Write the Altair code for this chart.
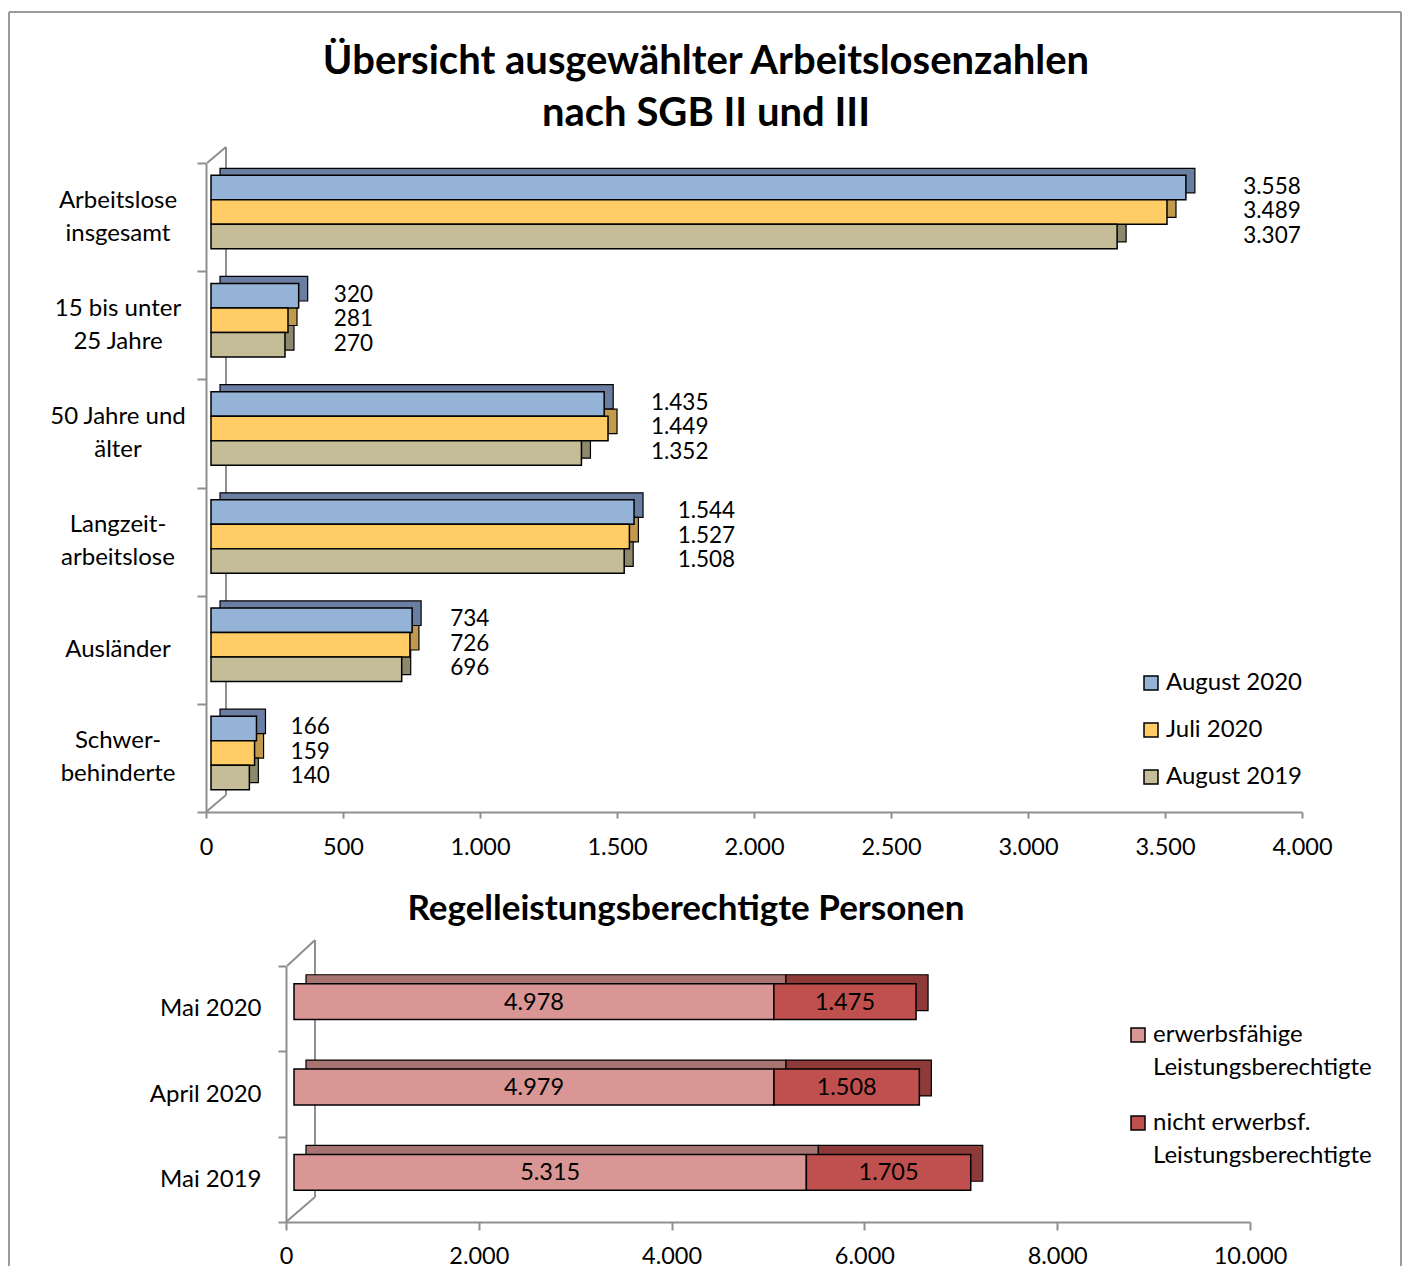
import altair as alt
import pandas as pd

# ---------------- data ----------------
categories = ["Arbeitslose|insgesamt", "15 bis unter|25 Jahre", "50 Jahre und|älter",
              "Langzeit-|arbeitslose", "Ausländer", "Schwer-|behinderte"]
series_names = ["August 2020", "Juli 2020", "August 2019"]
aug_2020 = [3558, 320, 1435, 1544, 734, 166]
jul_2020 = [3489, 281, 1449, 1527, 726, 159]
aug_2019 = [3307, 270, 1352, 1508, 696, 140]
top_ticks = [0, 500, 1000, 1500, 2000, 2500, 3000, 3500, 4000]

months = ["Mai 2020", "April 2020", "Mai 2019"]
benefit_types = ["erwerbsfähige|Leistungsberechtigte", "nicht erwerbsf.|Leistungsberechtigte"]
erwerbsfaehige = [4978, 4979, 5315]
nicht_erwerbsfaehige = [1475, 1508, 1705]
bottom_ticks = [0, 2000, 4000, 6000, 8000, 10000]

title_top = ["Übersicht ausgewählter Arbeitslosenzahlen", "nach SGB II und III"]
title_bottom = "Regelleistungsberechtigte Personen"

# ---------------- style ----------------
FONT = "Lato"
GRAY = "#8f8f8f"
LFS = 24      # label font size
NFS = 23.5    # tick label font size
VFS = 22.5    # value label font size
front_colors = ["#95B3D7", "#FFCC66", "#C4BD97"]
side_colors = ["#6A7EA2", "#C29A4C", "#8E896C"]
pink_front = ["#D99694", "#C0504D"]
pink_side = ["#A87472", "#8E3A38"]

W1, H1 = 1096, 649
W2, H2 = 964, 256

NUM = "replace(format(datum.value, ','), ',', '.')"

rows = []
for s, vals in zip(series_names, [aug_2020, jul_2020, aug_2019]):
    for c, v in zip(categories, vals):
        rows.append({"cat": c, "series": s, "value": v})
df1 = pd.DataFrame(rows)
df_cats = pd.DataFrame({"cat": categories})

rows2 = []
for i, (t, vals) in enumerate(zip(benefit_types, [erwerbsfaehige, nicht_erwerbsfaehige])):
    for m, v in zip(months, vals):
        rows2.append({"month": m, "type": t, "value": v, "order": i})
df2 = pd.DataFrame(rows2)

dummy = pd.DataFrame({"d": [0]})


def rule(x, y, x2=None, y2=None, color=GRAY, width=2):
    enc = dict(x=alt.value(x), y=alt.value(y))
    if x2 is not None:
        enc["x2"] = alt.value(x2)
    if y2 is not None:
        enc["y2"] = alt.value(y2)
    return alt.Chart(dummy).mark_rule(color=color, strokeWidth=width).encode(**enc)


# ---------------- top chart ----------------
band_kw = dict(domain=categories, paddingInner=0.32, paddingOuter=0.16)
band_axis = dict(domain=categories, paddingInner=0, paddingOuter=0)
xs1 = alt.Scale(domain=[0, 4000], nice=False)
yoff1 = alt.YOffset("series:N", scale=alt.Scale(domain=series_names))

x_axis1 = alt.Axis(values=top_ticks, labelExpr=NUM, tickSize=6, labelPadding=17,
                   labelFontSize=NFS, labelFont=FONT, labelColor="black", labelFlush=False,
                   domainColor=GRAY, tickColor=GRAY, domainWidth=2, tickWidth=2,
                   grid=False, title=None)
y_axis1 = alt.Axis(labels=False, tickSize=9, tickBand="extent", title=None,
                   domainColor=GRAY, tickColor=GRAY, domainWidth=2, tickWidth=2)

cats = alt.Chart(df_cats)

ylab_two = cats.transform_filter("indexof(datum.cat, '|') >= 0").mark_text(
    lineBreak="|", align="center", baseline="middle", dy=-16.5, lineHeight=33,
    fontSize=LFS, font=FONT, color="black"
).encode(
    x=alt.value(-88),
    y=alt.Y("cat:N", scale=alt.Scale(**band_axis), axis=y_axis1),
    text="cat:N",
)
ylab_one = cats.transform_filter("indexof(datum.cat, '|') < 0").mark_text(
    align="center", baseline="middle", fontSize=LFS, font=FONT, color="black"
).encode(
    x=alt.value(-88),
    y=alt.Y("cat:N", scale=alt.Scale(**band_axis), axis=None),
    text="cat:N",
)

base1 = alt.Chart(df1)

shadow1 = base1.mark_bar(stroke="black", strokeWidth=1.2, xOffset=14, x2Offset=14).encode(
    x=alt.X("value:Q", scale=xs1, axis=None),
    y=alt.Y("cat:N", scale=alt.Scale(range=[-12, H1 - 12], **band_kw), axis=None),
    yOffset=yoff1,
    color=alt.Color("series:N", scale=alt.Scale(domain=series_names, range=side_colors), legend=None),
)

front1 = base1.mark_bar(stroke="black", strokeWidth=1.5, xOffset=5, x2Offset=5).encode(
    x=alt.X("value:Q", scale=xs1, axis=x_axis1),
    y=alt.Y("cat:N", scale=alt.Scale(range=[-5, H1 - 5], **band_kw), axis=None),
    yOffset=yoff1,
    color=alt.Color("series:N", scale=alt.Scale(domain=series_names, range=front_colors),
                    legend=alt.Legend(title=None, orient="none", legendX=933, legendY=508,
                                      symbolType="square", symbolSize=196,
                                      symbolStrokeColor="black", symbolStrokeWidth=1.5,
                                      labelFontSize=LFS, labelFont=FONT, labelColor="black",
                                      labelOffset=3, rowPadding=23, padding=0)),
)

# value labels: placed beside the longest bar of each group (with the slight
# perspective drift of the 3D original)
text1 = base1.transform_joinaggregate(
    gmax="max(value)", groupby=["cat"]
).transform_calculate(
    lx="datum.gmax * 1.025",
    label="replace(format(datum.value, ','), ',', '.')"
).mark_text(align="left", baseline="middle", dx=38, fontSize=VFS, font=FONT, color="black").encode(
    x=alt.X("lx:Q", scale=xs1, axis=None),
    y=alt.Y("cat:N", scale=alt.Scale(range=[-6, H1 - 6], **band_kw), axis=None),
    yOffset=yoff1,
    text="label:N",
)

title1 = alt.Chart(dummy).mark_text(
    text=title_top, font=FONT, fontSize=40, fontWeight="bold", align="center",
    baseline="alphabetic", lineHeight=52, color="black"
).encode(x=alt.value(500), y=alt.value(-89))

frame = [
    rule(-197, -151, y2=1103, color="#9a9a9a"),
    rule(-197, -151, x2=1195, color="#9a9a9a"),
    rule(1195, -151, y2=1103, color="#9a9a9a"),
]
walls1 = [
    rule(20, -16, y2=632),
    rule(1, 0, x2=20, y2=-16),
    rule(0, H1, x2=20, y2=632),
]

top = alt.layer(*frame, title1, *walls1, ylab_two, ylab_one, shadow1, front1, text1).resolve_scale(
    x="independent", y="independent", yOffset="independent", color="independent"
).properties(width=W1, height=H1)

# ---------------- bottom chart ----------------
ys2 = alt.Scale(domain=months, paddingInner=0.58, paddingOuter=0.29)
ys2_axis = alt.Scale(domain=months, paddingInner=0, paddingOuter=0)
xs2 = alt.Scale(domain=[0, 10000], nice=False)

x_axis2 = alt.Axis(values=bottom_ticks, labelExpr=NUM, tickSize=8, labelPadding=14,
                   labelFontSize=NFS, labelFont=FONT, labelColor="black", labelFlush=False,
                   domainColor=GRAY, tickColor=GRAY, domainWidth=2, tickWidth=2,
                   grid=False, title=None)
y_axis2 = alt.Axis(labelAlign="right", labelPadding=17, tickSize=8, tickBand="extent",
                   labelFontSize=LFS, labelFont=FONT, labelColor="black", title=None,
                   domainColor=GRAY, tickColor=GRAY, domainWidth=2, tickWidth=2)

base2 = alt.Chart(df2)

shadow2 = base2.mark_bar(stroke="black", strokeWidth=1.2, xOffset=20, x2Offset=20, yOffset=-16).encode(
    x=alt.X("value:Q", scale=xs2, stack="zero", axis=None),
    y=alt.Y("month:N", scale=ys2, axis=None),
    color=alt.Color("type:N", scale=alt.Scale(domain=benefit_types, range=pink_side), legend=None),
    order=alt.Order("order:Q"),
)

front2 = base2.mark_bar(stroke="black", strokeWidth=1.5, xOffset=8, x2Offset=8, yOffset=-7).encode(
    x=alt.X("value:Q", scale=xs2, stack="zero", axis=x_axis2),
    y=alt.Y("month:N", scale=ys2, axis=None),
    color=alt.Color("type:N", scale=alt.Scale(domain=benefit_types, range=pink_front),
                    legend=alt.Legend(title=None, orient="none", legendX=840, legendY=57,
                                      symbolType="square", symbolSize=196,
                                      symbolStrokeColor="black", symbolStrokeWidth=1.5,
                                      labelExpr="split(datum.label, '|')", labelLimit=400,
                                      labelFontSize=LFS, labelFont=FONT, labelColor="black",
                                      labelOffset=3, rowPadding=31, padding=0)),
    order=alt.Order("order:Q"),
)

text2 = base2.transform_stack(
    stack="value", groupby=["month"], as_=["v0", "v1"],
    sort=[alt.SortField("order", order="ascending")]
).transform_calculate(
    mid="(datum.v0 + datum.v1) / 2",
    label="replace(format(datum.value, ','), ',', '.')"
).mark_text(align="center", baseline="middle", dx=8, dy=-6, fontSize=NFS, font=FONT, color="black").encode(
    x=alt.X("mid:Q", scale=xs2, axis=None),
    y=alt.Y("month:N", scale=ys2_axis, axis=y_axis2),
    text="label:N",
)

title2 = alt.Chart(dummy).mark_text(
    text=title_bottom, font=FONT, fontSize=35, fontWeight="bold", align="center",
    baseline="alphabetic", color="black"
).encode(x=alt.value(400), y=alt.value(-46))

walls2 = [
    rule(29, -26, y2=231),
    rule(1, 0, x2=29, y2=-26),
    rule(0, H2, x2=29, y2=231),
]

bottom = alt.layer(title2, *walls2, shadow2, front2, text2).resolve_scale(
    x="independent", y="independent", color="independent"
).properties(width=W2, height=H2)

spacer = alt.Chart(dummy).mark_point(opacity=0).encode(
    x=alt.value(0), y=alt.value(0)
).properties(width=80, height=H2)

bottom_row = alt.hconcat(spacer, bottom, spacing=0, bounds="flush")

chart = alt.vconcat(top, bottom_row, spacing=154, bounds="flush").properties(
    padding={"left": 0, "top": 3, "right": 0, "bottom": 0}
).configure(
    font=FONT, style={"guide-label": {"lineHeight": 33}}
).configure_view(stroke=None)

chart.save("out.html", embed_options={"renderer": "svg", "actions": False})
